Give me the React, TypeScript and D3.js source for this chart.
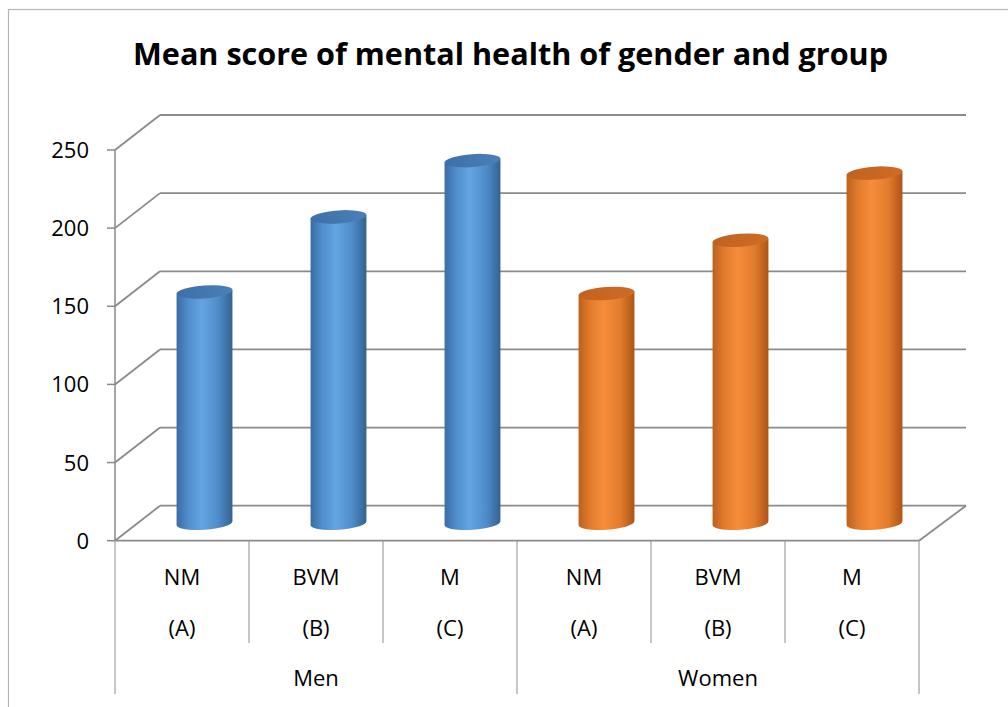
import React from "react";
import * as d3 from "d3";

const categories = ["NM", "BVM", "M", "NM", "BVM", "M"];
const subLabels = ["(A)", "(B)", "(C)", "(A)", "(B)", "(C)"];
const groups = ["Men", "Women"];
const menValues = [148, 196, 232];
const womenValues = [147, 181, 224];
const yTicks = [0, 50, 100, 150, 200, 250];
const title = "Mean score of mental health of gender and group";

const W = 1008;
const H = 707;
const X0 = 115;
const X1 = 919;
const Y0 = 540.7;
const YTOP = 150;
const DX = 45;
const DY = -35;
const GRID = "#8a8a8a";
const FONT = "'Open Sans', 'DejaVu Sans', sans-serif";

export default function App() {
  const values = [...menValues, ...womenValues];
  const idx = categories.map((_, i) => i);
  const x = d3.scaleBand<number>().domain(idx).range([X0, X1]).paddingInner(0).paddingOuter(0);
  const y = d3.scaleLinear().domain([0, 250]).range([Y0, YTOP]);
  const groupX = d3.scaleBand<string>().domain(groups).range([X0, X1]);
  const bw = x.bandwidth();
  const rx = 28;
  const ry = 6.5;
  const rot = -4;
  const th = (rot * Math.PI) / 180;

  const cyl = (i: number) => {
    const v = values[i];
    const cx = (x(i) as number) + bw / 2 + DX / 2;
    const yb = y(0) + DY / 2;
    const yt = y(v) + DY / 2;
    const ox = rx * Math.cos(th);
    const oy = rx * Math.sin(th);
    const body = `M${cx - ox},${yt - oy} L${cx - ox},${yb - oy} A${rx},${ry} ${rot} 0 0 ${cx + ox},${yb + oy} L${cx + ox},${yt + oy} Z`;
    const isMen = i < 3;
    return (
      <g key={i}>
        <path d={body} fill={isMen ? "url(#gBlue)" : "url(#gOrange)"} />
        <ellipse
          cx={cx}
          cy={yt}
          rx={rx}
          ry={ry}
          transform={`rotate(${rot} ${cx} ${yt})`}
          fill={isMen ? "url(#tBlue)" : "url(#tOrange)"}
        />
      </g>
    );
  };

  return (
    <svg
      width={W}
      height={H}
      style={{ position: "absolute", left: 0, top: 0, display: "block", background: "#fff" }}
    >
      <defs>
        <linearGradient id="gBlue" x1="0" x2="1" y1="0" y2="0">
          <stop offset="0" stopColor="#3a6ca4" />
          <stop offset="0.2" stopColor="#4f8ccb" />
          <stop offset="0.45" stopColor="#63a5e2" />
          <stop offset="0.75" stopColor="#4f8bc9" />
          <stop offset="1" stopColor="#34628f" />
        </linearGradient>
        <linearGradient id="tBlue" x1="0" x2="1" y1="0" y2="0">
          <stop offset="0" stopColor="#3d70a6" />
          <stop offset="1" stopColor="#4a80b8" />
        </linearGradient>
        <linearGradient id="gOrange" x1="0" x2="1" y1="0" y2="0">
          <stop offset="0" stopColor="#bd611e" />
          <stop offset="0.2" stopColor="#e07a2c" />
          <stop offset="0.45" stopColor="#f78d3b" />
          <stop offset="0.75" stopColor="#e27b2c" />
          <stop offset="1" stopColor="#ad5517" />
        </linearGradient>
        <linearGradient id="tOrange" x1="0" x2="1" y1="0" y2="0">
          <stop offset="0" stopColor="#c0621f" />
          <stop offset="1" stopColor="#cf6c25" />
        </linearGradient>
      </defs>

      {/* outer frame */}
      <rect x={8.5} y={9.5} width={1100} height={800} fill="none" stroke="#b5b5b5" strokeWidth={1.2} />

      {/* title */}
      <text
        x={510.5}
        y={65}
        textAnchor="middle"
        fontFamily={FONT}
        fontWeight={700}
        fontSize={31}
        textLength={755}
        lengthAdjust="spacingAndGlyphs"
        fill="#000"
      >
        {title}
      </text>

      {/* gridlines: side wall diagonals + back wall horizontals */}
      {yTicks.map((t) => (
        <g key={t}>
          <line x1={X0} y1={y(t)} x2={X0 + DX} y2={y(t) + DY} stroke={GRID} strokeWidth={1.8} />
          <line x1={X0 + DX} y1={y(t) + DY} x2={X1 + DX + 2} y2={y(t) + DY} stroke={GRID} strokeWidth={1.8} />
          <line x1={X0 - 8} y1={y(t)} x2={X0} y2={y(t)} stroke={GRID} strokeWidth={1.5} />
          <text
            x={89}
            y={y(t) + 8}
            textAnchor="end"
            fontFamily={FONT}
            fontSize={22}
            fill="#000"
          >
            {t}
          </text>
        </g>
      ))}

      {/* floor right edge */}
      <line x1={X1} y1={Y0} x2={X1 + DX + 2} y2={Y0 + DY} stroke={GRID} strokeWidth={1.8} />

      {/* y axis front line */}
      <line x1={X0} y1={YTOP} x2={X0} y2={Y0} stroke={GRID} strokeWidth={1.5} />

      {/* cylinders */}
      {idx.map((i) => cyl(i))}

      {/* category axis front edge */}
      <line x1={X0} y1={Y0} x2={X1} y2={Y0} stroke={GRID} strokeWidth={1.8} />

      {/* category dividers */}
      {d3.range(categories.length + 1).map((k) => {
        const xx = X0 + k * bw;
        const outer = k % 3 === 0;
        return (
          <line
            key={k}
            x1={xx}
            y1={Y0}
            x2={xx}
            y2={outer ? 694 : 643}
            stroke="#a0a0a0"
            strokeWidth={1.2}
          />
        );
      })}

      {/* category labels */}
      {idx.map((i) => {
        const cx = (x(i) as number) + bw / 2;
        return (
          <g key={i}>
            <text x={cx} y={585} textAnchor="middle" fontFamily={FONT} fontSize={22} fill="#000">
              {categories[i]}
            </text>
            <text x={cx} y={636} textAnchor="middle" fontFamily={FONT} fontSize={22} fill="#000">
              {subLabels[i]}
            </text>
          </g>
        );
      })}
      {groups.map((g) => (
        <text
          key={g}
          x={(groupX(g) as number) + groupX.bandwidth() / 2}
          y={686}
          textAnchor="middle"
          fontFamily={FONT}
          fontSize={22}
          fill="#000"
        >
          {g}
        </text>
      ))}
    </svg>
  );
}
